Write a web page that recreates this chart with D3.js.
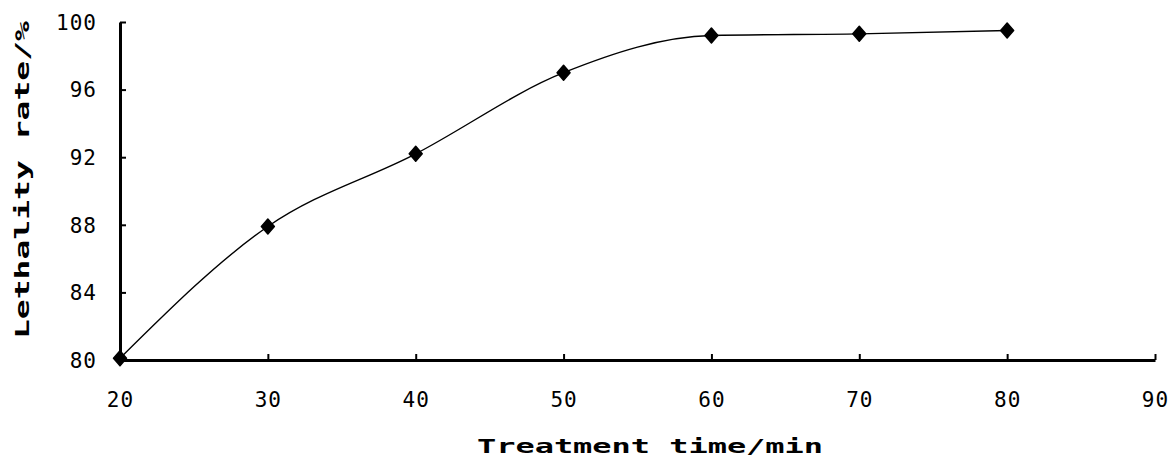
<!DOCTYPE html>
<html><head><meta charset="utf-8">
<script src="https://cdn.jsdelivr.net/npm/d3@7"></script>
<style>
body{margin:0;background:#fff;}
svg{display:block;}
.tick text{font-family:"DejaVu Sans Mono",monospace;font-size:21px;letter-spacing:1px;fill:#000;}
</style></head>
<body><svg id="c" width="1169" height="461"></svg>
<script>
const times = [20, 30, 40, 50, 60, 70, 80];
const lethality = [80.1, 87.9, 92.2, 97.0, 99.2, 99.3, 99.5];
const xTicks = [20, 30, 40, 50, 60, 70, 80, 90];
const yTicks = [80, 84, 88, 92, 96, 100];
const xTitle = "Treatment time/min";
const yTitle = "Lethality rate/%";

const svg = d3.select("#c");
const m = {l:120, r:1155, t:22, b:360};
const x = d3.scaleLinear().domain([20,90]).range([m.l, m.r]);
const y = d3.scaleLinear().domain([80,100]).range([m.b, m.t]);

const xa = svg.append("g").attr("transform",`translate(0,${m.b})`)
  .call(d3.axisBottom(x).tickValues(xTicks).tickSize(-6).tickPadding(35).tickSizeOuter(0));
const ya = svg.append("g").attr("transform",`translate(${m.l},0)`)
  .call(d3.axisLeft(y).tickValues(yTicks).tickSize(-6).tickPadding(23).tickSizeOuter(0));
[xa,ya].forEach(a=>{
  a.select(".domain").attr("stroke","#000").attr("stroke-width",3);
  a.selectAll(".tick line").attr("stroke","#000").attr("stroke-width",2);
});
xa.selectAll(".tick text").attr("dy","0.55em");
ya.selectAll(".tick text").attr("dy","0.35em");

const data = times.map((t,i)=>({t, v:lethality[i]}));
svg.append("path").datum(data)
  .attr("fill","none").attr("stroke","#000").attr("stroke-width",1.4)
  .attr("d", d3.line().x(d=>x(d.t)).y(d=>y(d.v)).curve(d3.curveMonotoneX));

const marker = "M0,-7.5L3,-4L6.5,0L3,4L0,7.5L-3,4L-6.5,0L-3,-4Z";
svg.selectAll(".pt").data(data).enter().append("path")
  .attr("class","pt")
  .attr("transform", d=>`translate(${x(d.t)},${y(d.v)})`)
  .attr("d", marker)
  .attr("fill","#000").attr("stroke","#000").attr("stroke-width",1.5).attr("stroke-linejoin","round");

svg.append("text").text(xTitle)
  .attr("x", 650).attr("y", 453).attr("text-anchor","middle")
  .attr("font-family","DejaVu Sans Mono, monospace").attr("font-weight","bold")
  .attr("font-size",19).attr("textLength",346).attr("lengthAdjust","spacingAndGlyphs");

svg.append("text").text(yTitle)
  .attr("transform","translate(29,180) rotate(-90)").attr("text-anchor","middle")
  .attr("font-family","DejaVu Sans Mono, monospace").attr("font-weight","bold")
  .attr("font-size",19).attr("textLength",318).attr("lengthAdjust","spacingAndGlyphs");
</script></body></html>
